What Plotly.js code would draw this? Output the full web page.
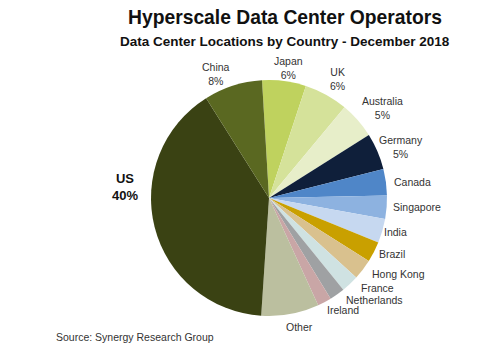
<!DOCTYPE html>
<html>
<head>
<meta charset="utf-8">
<script src="https://cdn.plot.ly/plotly-3.0.1.min.js"></script>
<style>html,body{margin:0;padding:0;background:#fff;}#chart{width:480px;height:356px;}</style>
</head>
<body>
<div id="chart"></div>
<script>
const countries = ["Japan","UK","Australia","Germany","Canada","Singapore","India","Brazil","Hong Kong","France","Netherlands","Ireland","Other","US","China"];
const shares = [6, 6, 5, 5, 3.6, 3.2, 3.3, 2.8, 2.8, 2.4, 2.1, 1.9, 7.9, 40, 8];
const sliceColors = ["#bfd25e","#d5e29a","#e7eec9","#0f1f3a","#4f86c8","#8db2e0","#c6d8f0","#c9a000","#d9c18e","#cfe2e2","#9fa1a3","#c9a6a6","#bbbf9f","#3a4213","#5a6821"];
const labelText = ["Japan<br>6%","UK<br>6%","Australia<br>5%","Germany<br>5%","Canada","Singapore","India","Brazil","Hong Kong","France","Netherlands","Ireland","Other","<b>US<br>40%</b>","China<br>8%"];
// label anchor positions in pixels (text centre)
const labelPx = [[288,68],[337,79],[382,108],[401,147],[412,182],[417,207],[395,232],[392,254],[398,274],[377,287.5],[374,299.5],[343,310],[299,327],[125,187],[216,74]];

const W = 480, H = 356;
const cx = 269, cy = 198, r = 118;

const annotations = labelPx.map((p, i) => ({
  xref: 'paper', yref: 'paper',
  x: p[0] / W, y: 1 - p[1] / H,
  xanchor: 'center', yanchor: 'middle',
  text: labelText[i], showarrow: false,
  font: {family: 'Liberation Sans, Arial, sans-serif', size: i === 13 ? 13 : 10.5, color: i === 13 ? '#111' : '#333'},
  align: 'center'
}));
annotations.push({
  xref: 'paper', yref: 'paper', x: 285 / W, y: 1 - 41 / H,
  xanchor: 'center', yanchor: 'middle', showarrow: false,
  text: '<b>Data Center Locations by Country - December 2018</b>',
  font: {family: 'Liberation Sans, Arial, sans-serif', size: 13.5, color: '#111'}
});
annotations.push({
  xref: 'paper', yref: 'paper', x: 135 / W, y: 1 - 337 / H,
  xanchor: 'center', yanchor: 'middle', showarrow: false,
  text: 'Source: Synergy Research Group',
  font: {family: 'Liberation Sans, Arial, sans-serif', size: 10.5, color: '#333'}
});

const data = [{
  type: 'pie',
  labels: countries,
  values: shares,
  sort: false,
  direction: 'clockwise',
  rotation: -3.4,
  marker: {colors: sliceColors, line: {width: 0}},
  textinfo: 'none',
  hoverinfo: 'none',
  showlegend: false,
  domain: {x: [(cx - r) / W, (cx + r) / W], y: [(H - cy - r) / H, (H - cy + r) / H]}
}];

const layout = {
  width: W, height: H,
  margin: {l: 0, r: 0, t: 0, b: 0},
  paper_bgcolor: '#fff',
  title: {
    text: '<b>Hyperscale Data Center Operators</b>',
    x: 285 / W, xanchor: 'center', y: 1 - 17 / H, yanchor: 'middle',
    font: {family: 'Liberation Sans, Arial, sans-serif', size: 19.3, color: '#111'}
  },
  annotations: annotations
};

Plotly.newPlot('chart', data, layout, {staticPlot: true});
</script>
</body>
</html>
